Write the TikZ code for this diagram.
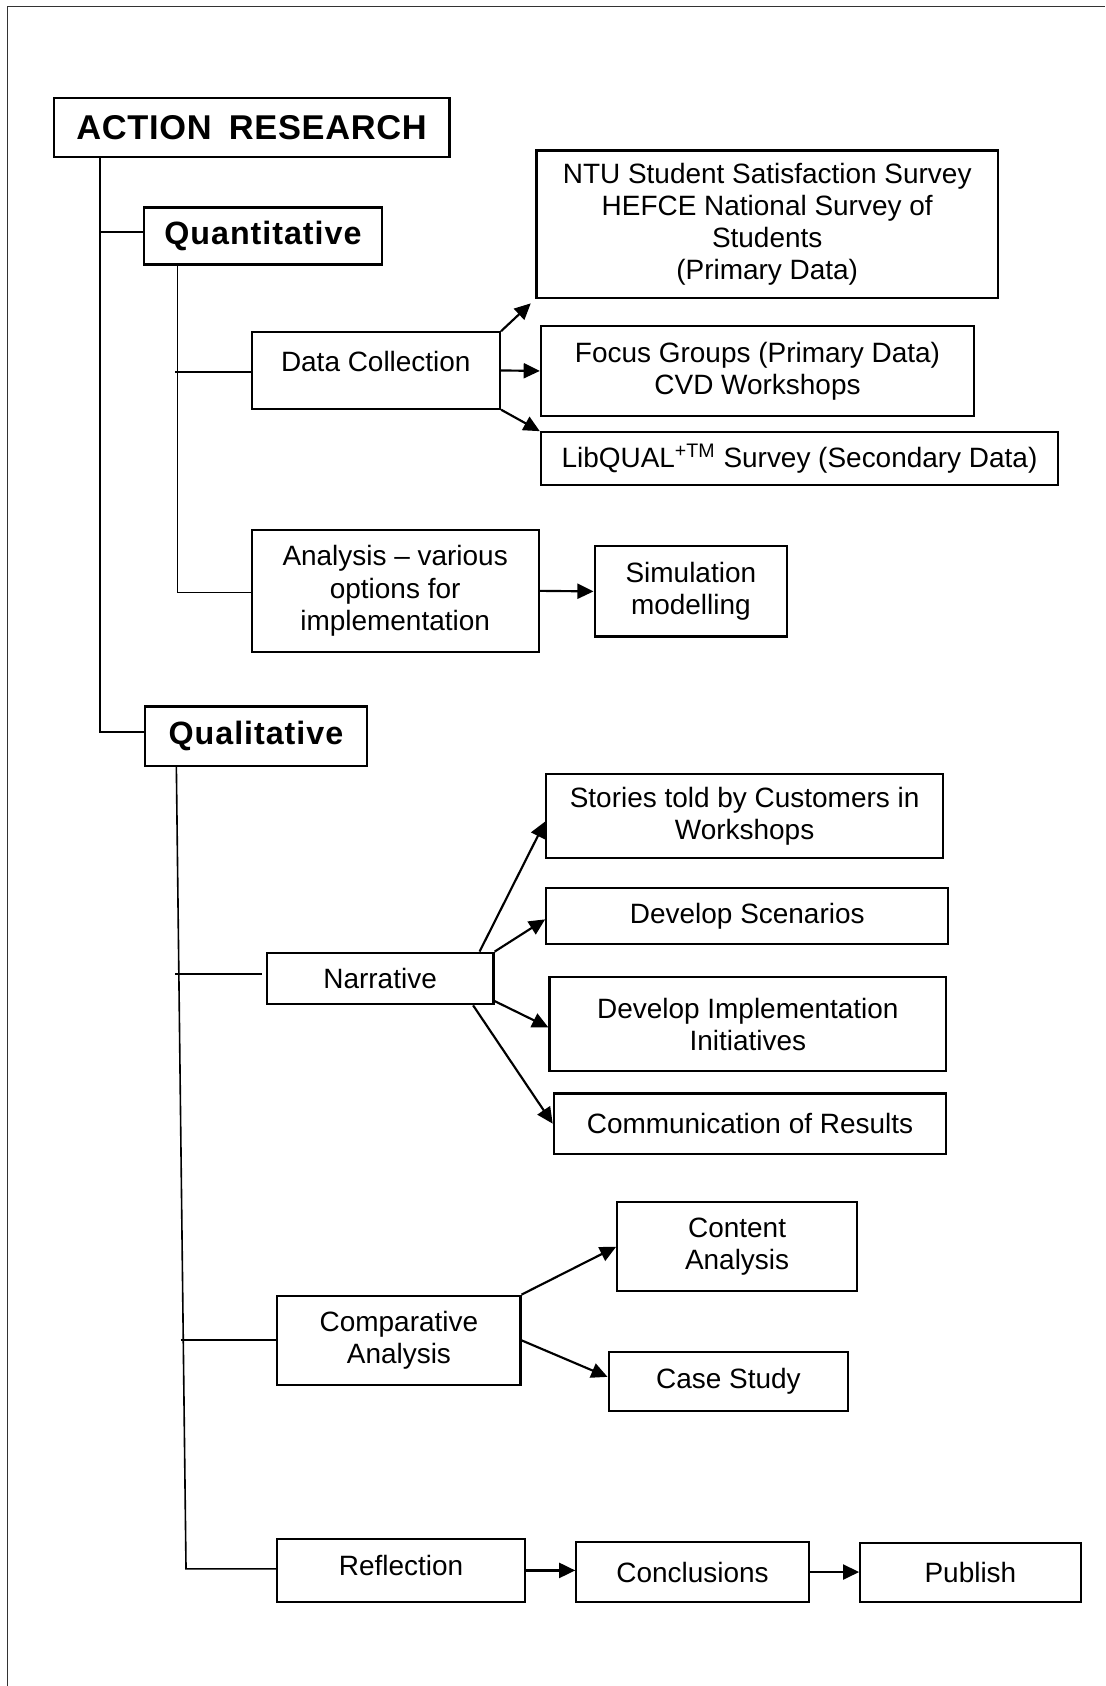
\documentclass[tikz,border=0pt]{standalone}
\usepackage{fontspec}
\setmainfont{Liberation Sans}
\usetikzlibrary{arrows.meta}
% box from its corners: [style]{name}{x1}{y1}{x2}{y2}{text}
\newcommand\bx[7][]{%
  \node[box,#1,minimum width={(#5-#3)*0.5bp},minimum height={(#6-#4)*0.5bp}]
    (#2) at ({(#3+#5)/2},{(#4+#6)/2}) {#7};}
\begin{document}
\begin{tikzpicture}[x=0.5bp,y=-0.5bp,
  box/.style={draw=black,line width=1bp,inner sep=0pt,align=center,
    font=\fontsize{13bp}{15bp}\selectfont},
  txt/.style={inner sep=0pt,align=center,font=\fontsize{13bp}{15bp}\selectfont},
  hd/.style={font=\fontsize{15bp}{17bp}\selectfont\bfseries\addfontfeature{LetterSpace=3}},
  hdbig/.style={font=\fontsize{16bp}{18bp}\selectfont\bfseries\addfontfeature{LetterSpace=2}},
  tree/.style={line width=0.75bp},
  arr/.style={line width=1bp,-{Triangle[length=7.5bp,width=7bp]}},
  frame/.style={line width=0.8bp,draw=black!80}]
\useasboundingbox (0,0) rectangle (1028,1568);
% page frame
\draw[frame] (7,1568) -- (7,6) -- (1028,6);

% boxes
\bx[hdbig]{ar}{50}{91}{418}{146}{ACTION\hspace{0.5em}RESEARCH}
\bx[hd]{quan}{134}{193}{355}{246}{Quantitative}
\bx{ntu}{499}{140}{928}{277}{NTU Student Satisfaction Survey\\HEFCE National Survey of\\Students\\(Primary Data)}
\bx{dc}{234}{309}{465}{380}{}
\node[txt] (dctext) at (349.5,336) {Data Collection};
\bx{fg}{503}{303}{906}{387}{Focus Groups (Primary Data)\\CVD Workshops}
\bx{lib}{503}{402}{984}{451}{LibQUAL\textsuperscript{+TM} Survey (Secondary Data)}
\bx{an}{234}{493}{501}{606}{Analysis \textendash{} various\\options for\\implementation}
\bx{sim}{553}{508}{732}{592}{Simulation\\modelling}
\bx[hd]{qual}{135}{657}{341}{712}{Qualitative}
\bx{sto}{508}{720}{877}{798}{Stories told by Customers in\\Workshops}
\bx{scen}{508}{826}{882}{878}{Develop Scenarios}
\bx{nar}{248}{886}{459}{934}{Narrative}
\bx{impl}{511}{909}{880}{996}{Develop Implementation\\Initiatives}
\bx{comm}{515}{1017}{880}{1073}{Communication of Results}
\bx{cont}{574}{1118}{797}{1201}{Content\\Analysis}
\bx{comp}{258}{1205}{484}{1288}{Comparative\\Analysis}
\bx{case}{566}{1257}{789}{1312}{Case Study}
\bx{refl}{258}{1431}{488}{1490}{}
\node[txt] (refltext) at (373,1456) {Reflection};
\bx{conc}{536}{1434}{752}{1490}{Conclusions}
\bx{pub}{800}{1435}{1005}{1490}{Publish}

% main trunk
\coordinate (ja) at (93,681);
\coordinate (jq) at (93,216);
\draw[tree] (ar.south -| ja) -- (ja) -- (ja -| qual.west);
\draw[tree] (jq) -- (jq -| quan.west);

% quantitative branch
\coordinate (ka) at (165,551);
\coordinate (kd) at (163,346);
\draw[tree] (quan.south -| ka) -- (ka) -- (ka -| an.west);
\draw[tree] (kd) -- (kd -| dc.west);

% qualitative branch
\coordinate (qt) at (164,712);
\coordinate (qr) at (173,1459);
\coordinate (qn) at (163,906);
\coordinate (qc) at (168,1246);
\draw[tree] (qt) -- (qr) -- (qr -| refl.west);
\draw[tree] (qn) -- ([xshift=-1.5bp]qn -| nar.west);
\draw[tree] (qc) -- (qc -| comp.west);

% arrows
\draw[arr,shorten >=3bp] (dc.north east) -- (ntu.south west);
\draw[arr] (dc.east) -- (fg.west);
\draw[arr] (dc.south east) -- (lib.north west);
\draw[arr] (an.east) -- (sim.west);
\draw[arr] ([xshift=-7bp]nar.north east) -- ([yshift=-2.5bp]sto.west);
\draw[arr] (nar.north east) -- ([yshift=-1.5bp]scen.west);
\draw[arr] ([yshift=2bp]nar.south east) -- ([yshift=-1.5bp]impl.west);
\draw[arr] ([xshift=-10bp]nar.south east) -- (comm.west);
\draw[arr] (comp.north east) -- (cont.west);
\draw[arr] (comp.east) -- ([yshift=2bp]case.west);
\draw[arr] (refl.east) -- (refl.east -| conc.west);
\draw[arr] (conc.east) -- (conc.east -| pub.west);
\end{tikzpicture}
\end{document}
